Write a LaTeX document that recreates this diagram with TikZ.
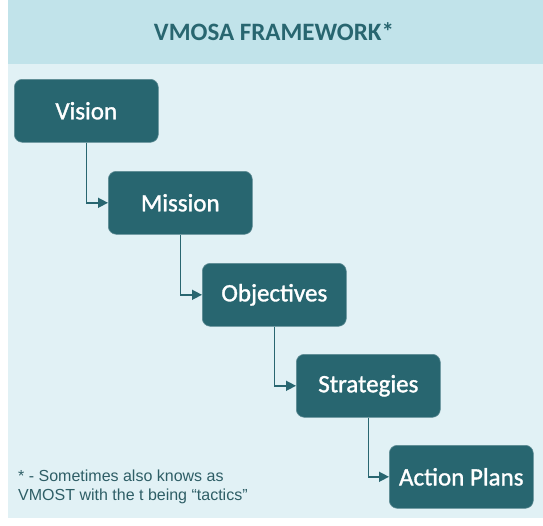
\documentclass[tikz,border=0pt]{standalone}
\usepackage{fontspec}
\setmainfont{Carlito}
\newfontfamily\boxfont[FakeBold=1.3]{Carlito}
\newfontfamily\notefont{Liberation Sans}
\usetikzlibrary{arrows.meta}
\definecolor{teal1}{HTML}{286670}
\definecolor{headbg}{HTML}{C1E3EA}
\definecolor{bodybg}{HTML}{E1F1F5}
\definecolor{notecol}{HTML}{2E5E66}
\tikzset{
  stage/.style={fill=teal1, draw=teal1!75!white, line width=0.6pt, rounded corners=8pt, minimum width=144pt, minimum height=63pt,
    text=white, font=\boxfont\fontsize{25}{28}\selectfont, inner sep=0pt, anchor=north west},
  link/.style={draw=teal1, line width=1.5pt, -{Triangle[length=10pt,width=10pt]}},
}
\begin{document}
\begin{tikzpicture}[x=1pt,y=-1pt]
\useasboundingbox (0,0) rectangle (543,525);
\fill[bodybg] (8,64) rectangle (543,518);
\fill[headbg] (8,0) rectangle (543,64);
\node[text=teal1, font=\bfseries\fontsize{25}{28}\selectfont] (title) at (274,32) {VMOSA FRAMEWORK*};
\node[stage] (v) at (14,79) {Vision};
\node[stage] (m) at (108,171) {Mission};
\node[stage] (o) at (202,263) {Objectives};
\node[stage] (s) at (296,354) {Strategies};
\node[stage] (a) at (389,445) {Action Plans};
\draw[link] (v.south) |- (m.west);
\draw[link] (m.south) |- (o.west);
\draw[link] (o.south) |- (s.west);
\draw[link] (s.south) |- (a.west);
\node[anchor=west, align=left, text=notecol, font=\notefont\fontsize{16}{19.5}\selectfont, inner sep=0pt] (note) at (18,487) {* - Sometimes also knows as\\VMOST with the t being “tactics”};
\end{tikzpicture}
\end{document}
